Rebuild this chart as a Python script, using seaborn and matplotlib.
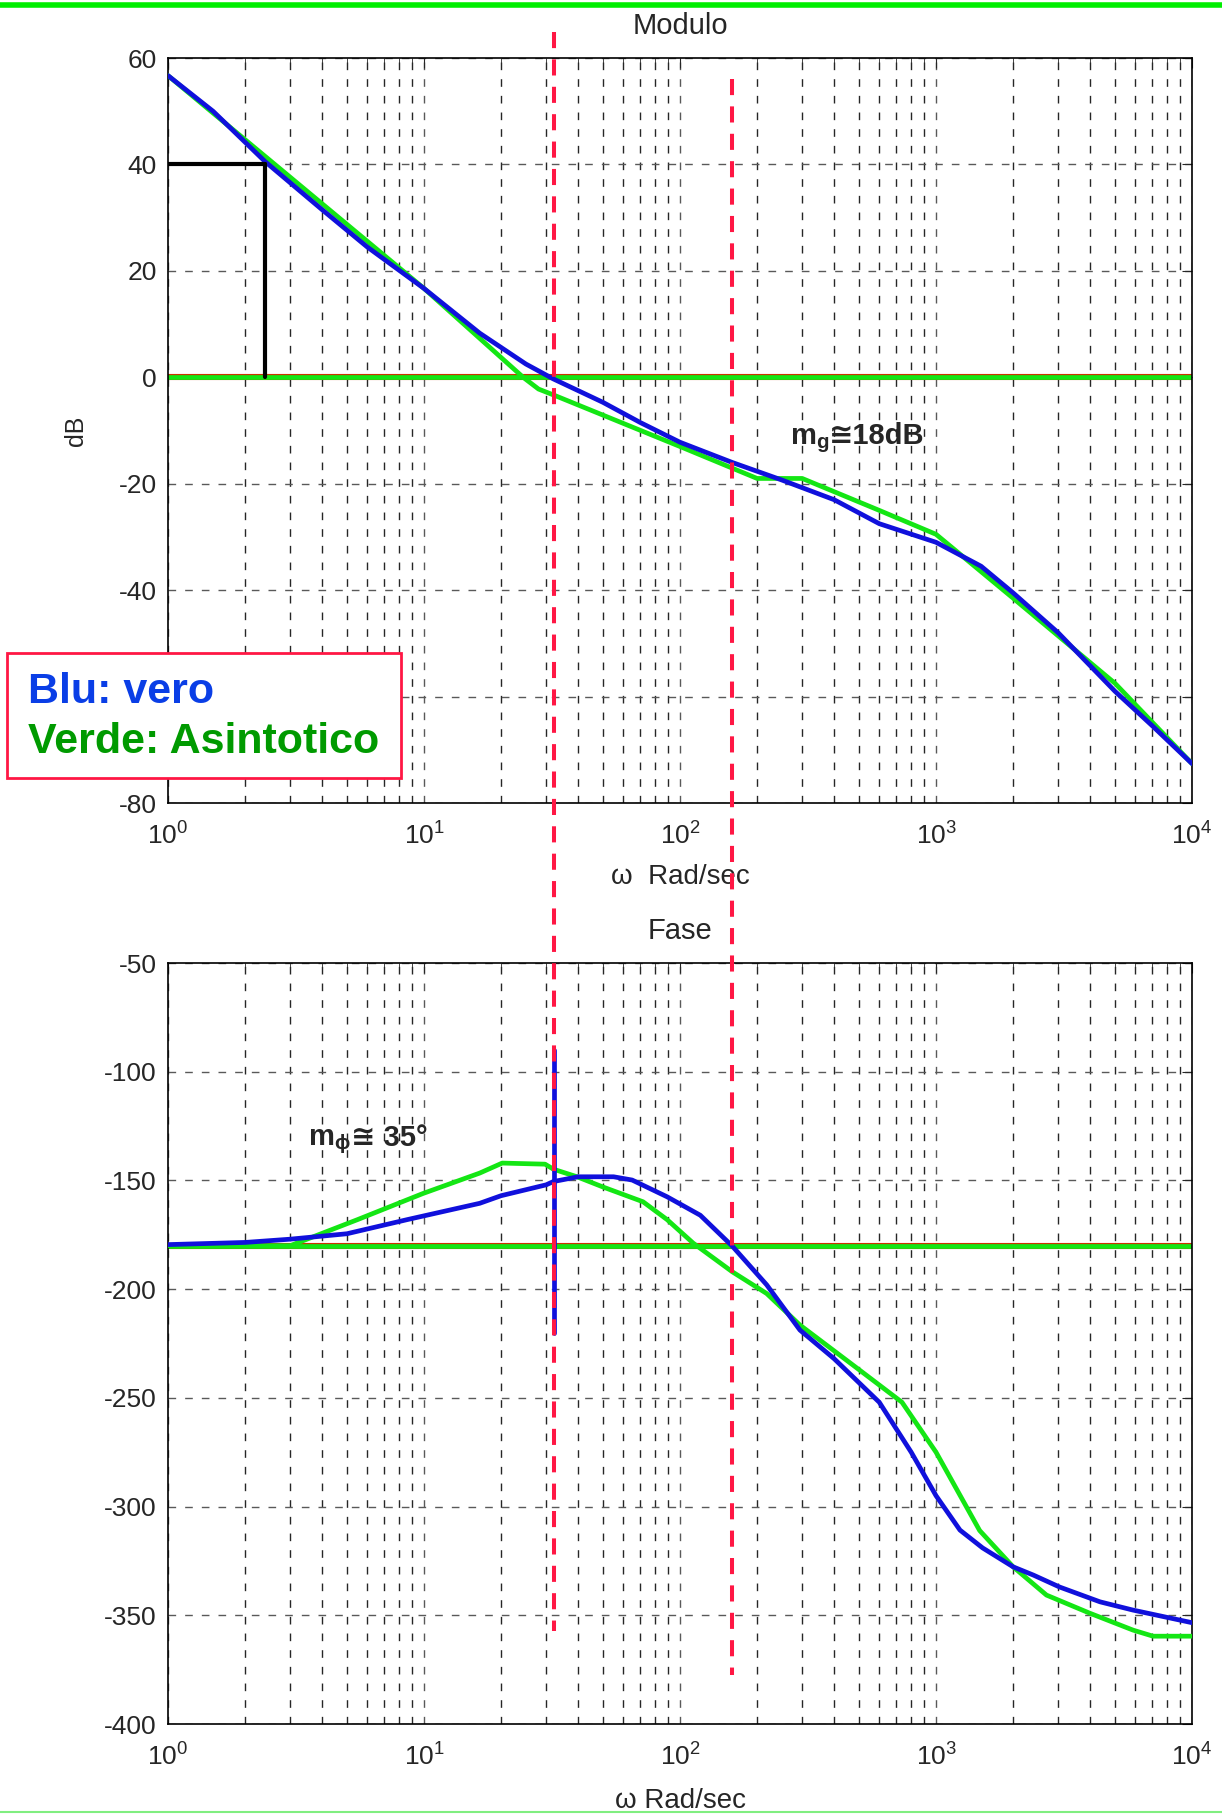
import numpy as np
import pandas as pd
import seaborn as sns
import matplotlib.pyplot as plt
from matplotlib.lines import Line2D
from matplotlib.patches import Rectangle

# modulo (dB)
w_mod_vero = [1, 1.5, 2.4, 4, 6, 10, 16.5, 25, 32, 50, 70, 100, 160, 250, 400, 600, 1000, 1500, 2000, 3000, 5000, 7000, 10000]
mod_vero = [56.7, 50, 40.5, 31.5, 24.5, 16.7, 8.3, 2.5, -0.3, -4.7, -8.5, -12.2, -16, -19.3, -23, -27.5, -31, -35.5, -40.5, -48, -59, -65.5, -72.6]
w_mod_asin = [1, 10, 24.4, 28, 32, 100, 200, 300, 600, 1000, 2000, 5000, 10000]
mod_asin = [56.7, 16.7, 0, -2.2, -3.3, -13, -19, -19, -25, -29.5, -41.5, -57.5, -72.6]

# fase (gradi)
w_fase_vero = [1, 2, 3, 5, 8.6, 16.5, 20, 30, 32, 40, 55, 65, 89, 120, 160, 218, 294, 400, 600, 800, 1000, 1240, 1520, 2000, 2400, 3040, 4370, 5880, 10000]
fase_vero = [-179.5, -178.5, -177, -174.5, -168, -160.5, -157, -152, -150.5, -148.3, -148.3, -149.8, -157.5, -166, -180.2, -198, -218.8, -232, -252, -275, -295, -310.8, -319, -327.7, -331.5, -337, -343.8, -347.6, -353.4]
w_fase_asin = [1, 3, 5.5, 9.9, 16.5, 20.2, 29.7, 32, 39.6, 50, 71.7, 89, 112.5, 160, 218, 294, 500, 736, 1000, 1480, 2000, 2700, 3980, 5880, 7040, 10000]
fase_asin = [-180, -180, -168, -156, -146.6, -142, -142.5, -144.8, -148.3, -153, -159.8, -168, -178.8, -192, -202, -216.5, -237, -252, -275, -311, -327.7, -340.7, -349, -356.8, -359.6, -359.6]

# marcatori
w_c = 32.2       # pulsazione di attraversamento
w_pi = 159.6     # pulsazione a -180
w_k = 2.39
spike = [-90, -220]
mod_ticks = [-80, -60, -40, -20, 0, 20, 40, 60]
fase_ticks = [-400, -350, -300, -250, -200, -150, -100, -50]

BLUE = '#1010dc'
GREEN = '#14e614'
RED = '#ff1744'
FONTS = ['Liberation Sans', 'DejaVu Sans']

sns.set_style('white')
plt.rcParams['font.family'] = FONTS
plt.rcParams['axes.unicode_minus'] = False
plt.rcParams['mathtext.fontset'] = 'custom'
plt.rcParams['mathtext.rm'] = 'Liberation Sans'
plt.rcParams['mathtext.bf'] = 'Liberation Sans:bold'
plt.rcParams['mathtext.it'] = 'Liberation Sans:italic'

fig = plt.figure(figsize=(12.22, 18.14), dpi=100)
ax1 = fig.add_axes([0.1375, 0.5573, 0.838, 0.4107])
ax2 = fig.add_axes([0.1375, 0.0496, 0.838, 0.4195])

grid_ls = (0, (5.5, 6.5))
for ax, ticks in ((ax1, mod_ticks), (ax2, fase_ticks)):
    ax.set_xscale('log')
    ax.set_xlim(1, 1e4)
    ax.set_ylim(ticks[0], ticks[-1])
    ax.set_yticks(ticks)
    ax.grid(True, which='major', axis='both', color='0.35', lw=1.0, ls=grid_ls)
    ax.grid(True, which='minor', axis='x', color='0.15', lw=1.0, ls=grid_ls)
    ax.tick_params(which='both', direction='in', top=True, right=True, labelsize=19, pad=8)
    ax.tick_params(axis='x', which='both', pad=14)
    ax.tick_params(which='major', length=7)
    ax.tick_params(which='minor', length=4)
    for s in ax.spines.values():
        s.set_color('black')
        s.set_linewidth(1.2)
    ax.set_axisbelow(True)


def margine(ax, x, y, pedice, resto):
    # "m" con pedice in grassetto, poi il resto in testo normale (per il simbolo ≅)
    t = ax.text(x, y, 'm$_\\mathbf{' + pedice + '}$', fontsize=21, fontweight='bold',
                ha='left', va='baseline')
    ax.annotate(resto, xy=(1, y), xycoords=(t, 'data'), fontsize=21, fontweight='bold',
                ha='left', va='baseline', family=FONTS)


# modulo
ax1.axhline(0, color='#cc3300', lw=4.4, zorder=2)
ax1.axhline(0, color=GREEN, lw=3.4, zorder=2)
sns.lineplot(x=w_mod_asin, y=mod_asin, ax=ax1, color=GREEN, lw=3.4, zorder=3)
sns.lineplot(x=w_mod_vero, y=mod_vero, ax=ax1, color=BLUE, lw=3.4, zorder=4)
ax1.plot([1, w_k], [40, 40], color='black', lw=3, zorder=5)
ax1.plot([w_k, w_k], [40, 0], color='black', lw=3, zorder=5)
ax1.set_title('Modulo', fontsize=21, pad=17)
ax1.set_ylabel('dB', fontsize=18)
ax1.yaxis.set_label_coords(-0.078, 0.5)
ax1.set_xlabel('ω  Rad/sec', fontsize=20)
ax1.xaxis.set_label_coords(0.5, -0.082)
margine(ax1, 268, -12.5, 'g', '≅18dB')

# fase
ax2.axhline(-180, color='#cc3300', lw=4.4, zorder=2)
ax2.axhline(-180, color=GREEN, lw=3.4, zorder=2)
sns.lineplot(x=w_fase_asin, y=fase_asin, ax=ax2, color=GREEN, lw=3.4, zorder=3)
sns.lineplot(x=w_fase_vero, y=fase_vero, ax=ax2, color=BLUE, lw=3.4, zorder=4)
ax2.plot([w_c, w_c], spike, color=BLUE, lw=3.4, zorder=4)
ax2.set_title('Fase', fontsize=21, pad=17)
ax2.set_xlabel('ω Rad/sec', fontsize=20)
ax2.xaxis.set_label_coords(0.5, -0.084)
margine(ax2, 3.52, -134, '\\phi', '≅ 35°')

# linee tratteggiate rosse attraverso i due grafici
inv = fig.transFigure.inverted()
for w, y0, y1 in ((w_c, 0.9824, 0.1009), (w_pi, 0.9565, 0.0766)):
    fx = inv.transform(ax1.transData.transform((w, 0)))[0]
    fig.add_artist(Line2D([fx, fx], [y0, y1], transform=fig.transFigure,
                          color=RED, lw=2.9, ls=(0, (4, 2.8)), zorder=10))

# riquadro legenda
fig.add_artist(Rectangle((7 / 1222, 1 - 778 / 1814), 394 / 1222, 125 / 1814,
                         transform=fig.transFigure, facecolor='white',
                         edgecolor=RED, lw=2, zorder=20))
fig.text(28 / 1222, 1 - 692 / 1814, 'Blu: vero', color='#0a3ee6', fontsize=31,
         fontweight='bold', va='center', zorder=21)
fig.text(28 / 1222, 1 - 742 / 1814, 'Verde: Asintotico', color='#009a00', fontsize=31,
         fontweight='bold', va='center', zorder=21)

# bordi verdi
fig.add_artist(Line2D([0, 1], [1 - 5 / 1814, 1 - 5 / 1814], transform=fig.transFigure,
                      color='#00ee00', lw=4))
fig.add_artist(Line2D([0, 1], [1 - 1812 / 1814, 1 - 1812 / 1814], transform=fig.transFigure,
                      color='#80ee80', lw=1.5))

plt.savefig('out.png', dpi=100)
